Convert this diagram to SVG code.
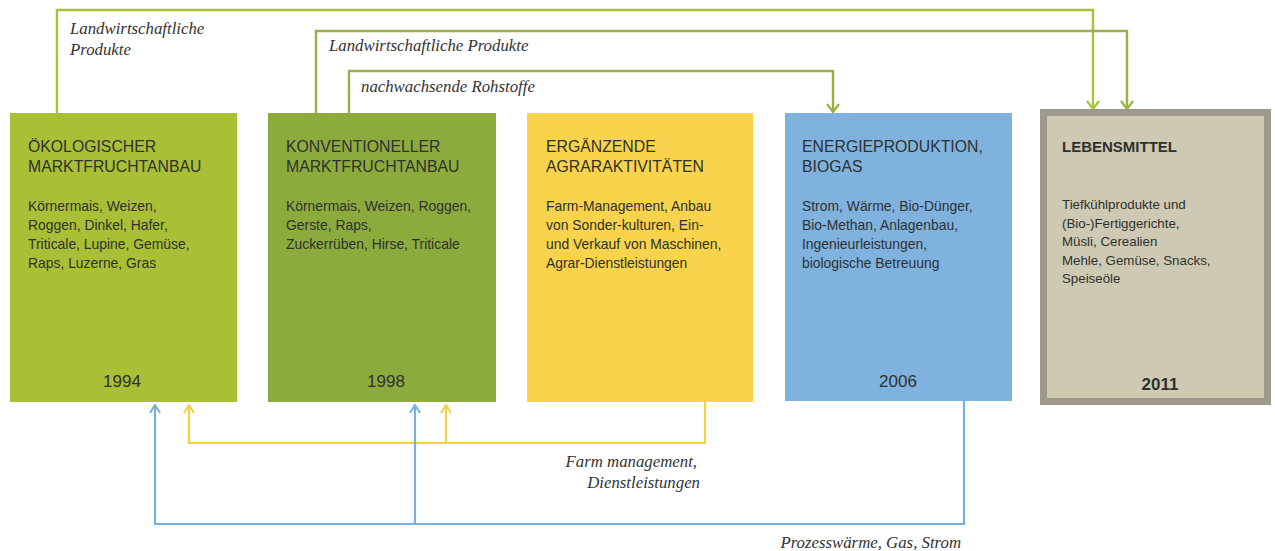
<svg xmlns="http://www.w3.org/2000/svg" width="1275" height="551" viewBox="0 0 1275 551">
<style>
.title{font-family:"Liberation Sans",Arial,sans-serif;font-size:15.8px;fill:#2f3130}
.body{font-family:"Liberation Sans",Arial,sans-serif;font-size:13.9px;fill:#2f3130}
.t5{font-family:"Liberation Sans",Arial,sans-serif;font-size:15px;font-weight:bold;fill:#2f3130}
.b5{font-family:"Liberation Sans",Arial,sans-serif;font-size:13.3px;fill:#2f3130}
.year{font-family:"Liberation Sans",Arial,sans-serif;font-size:17px;fill:#2f3130;text-anchor:middle}
.lbl{font-family:"Liberation Serif","Times New Roman",serif;font-style:italic;font-size:16.8px;fill:#333}
.g1{fill:none;stroke:#a9c13b;stroke-width:2.4}
.g2{fill:none;stroke:#98b044;stroke-width:2.4}
.y{fill:none;stroke:#f3d04c;stroke-width:2.2}
.b{fill:none;stroke:#7aaedb;stroke-width:2.2}
</style>
<defs>
<marker id="ag1" markerUnits="userSpaceOnUse" viewBox="0 0 10 14" markerWidth="10" markerHeight="14" refX="9" refY="7" orient="auto"><path d="M1,1 L9,7 L1,13" fill="none" stroke="#a9c13b" stroke-width="2.2"/></marker>
<marker id="ag2" markerUnits="userSpaceOnUse" viewBox="0 0 10 14" markerWidth="10" markerHeight="14" refX="9" refY="7" orient="auto"><path d="M1,1 L9,7 L1,13" fill="none" stroke="#98b044" stroke-width="2.2"/></marker>
<marker id="ay" markerUnits="userSpaceOnUse" viewBox="0 0 10 12" markerWidth="10" markerHeight="12" refX="9" refY="6" orient="auto"><path d="M1,1 L9,6 L1,11" fill="none" stroke="#f3d04c" stroke-width="2"/></marker>
<marker id="ab" markerUnits="userSpaceOnUse" viewBox="0 0 10 12" markerWidth="10" markerHeight="12" refX="9" refY="6" orient="auto"><path d="M1,1 L9,6 L1,11" fill="none" stroke="#7aaedb" stroke-width="2"/></marker>
</defs>
<rect width="1275" height="551" fill="#ffffff"/>

<g id="connectors">
<path class="g1" d="M57,113 V10 H1093 V109" marker-end="url(#ag1)"/>
<path class="g2" d="M316,113 V31 H1127 V109" marker-end="url(#ag2)"/>
<path class="g2" d="M349,113 V71 H833 V112" marker-end="url(#ag2)"/>
<path class="y" d="M705,402 V443 H189 V405" marker-end="url(#ay)"/>
<path class="y" d="M446,443 V405" marker-end="url(#ay)"/>
<path class="b" d="M964,401 V524 H155 V405" marker-end="url(#ab)"/>
<path class="b" d="M415,524 V405" marker-end="url(#ab)"/>
<text class="lbl" x="70" y="34">Landwirtschaftliche</text>
<text class="lbl" x="70" y="55">Produkte</text>
<text class="lbl" x="329" y="51">Landwirtschaftliche Produkte</text>
<text class="lbl" x="361" y="92">nachwachsende Rohstoffe</text>
<text class="lbl" x="697" y="467" text-anchor="end">Farm management,</text>
<text class="lbl" x="700" y="488" text-anchor="end">Dienstleistungen</text>
<text class="lbl" x="961" y="548" text-anchor="end">Prozesswärme, Gas, Strom</text>
</g>

<g id="oeko">
<rect x="10" y="113" width="227" height="289" fill="#a9bf35"/>
<text class="title" x="28" y="152">ÖKOLOGISCHER</text>
<text class="title" x="28" y="172">MARKTFRUCHTANBAU</text>
<text class="body" x="28" y="211">Körnermais, Weizen,</text>
<text class="body" x="28" y="230">Roggen, Dinkel, Hafer,</text>
<text class="body" x="28" y="249">Triticale, Lupine, Gemüse,</text>
<text class="body" x="28" y="268">Raps, Luzerne, Gras</text>
<text class="year" x="122" y="387">1994</text>
</g>

<g id="konv">
<rect x="268" y="113" width="228" height="289" fill="#8cab3d"/>
<text class="title" x="286" y="152">KONVENTIONELLER</text>
<text class="title" x="286" y="172">MARKTFRUCHTANBAU</text>
<text class="body" x="286" y="211">Körnermais, Weizen, Roggen,</text>
<text class="body" x="286" y="230">Gerste, Raps,</text>
<text class="body" x="286" y="249">Zuckerrüben, Hirse, Triticale</text>
<text class="year" x="386" y="387">1998</text>
</g>

<g id="agrar">
<rect x="527" y="113" width="226" height="289" fill="#f8d34b"/>
<text class="title" x="546" y="152">ERGÄNZENDE</text>
<text class="title" x="546" y="172">AGRARAKTIVITÄTEN</text>
<text class="body" x="546" y="211">Farm-Management, Anbau</text>
<text class="body" x="546" y="230">von Sonder-kulturen, Ein-</text>
<text class="body" x="546" y="249">und Verkauf von Maschinen,</text>
<text class="body" x="546" y="268">Agrar-Dienstleistungen</text>
</g>

<g id="energie">
<rect x="785" y="113" width="227" height="288" fill="#7fb2de"/>
<text class="title" x="802" y="152">ENERGIEPRODUKTION,</text>
<text class="title" x="802" y="172">BIOGAS</text>
<text class="body" x="802" y="211">Strom, Wärme, Bio-Dünger,</text>
<text class="body" x="802" y="230">Bio-Methan, Anlagenbau,</text>
<text class="body" x="802" y="249">Ingenieurleistungen,</text>
<text class="body" x="802" y="268">biologische Betreuung</text>
<text class="year" x="898" y="387">2006</text>
</g>

<g id="lebensmittel">
<rect x="1043.5" y="112.5" width="224" height="289" fill="#cdc9b2" stroke="#9e9a8b" stroke-width="7"/>
<text class="t5" x="1062" y="152">LEBENSMITTEL</text>
<text class="b5" x="1062" y="209">Tiefkühlprodukte und</text>
<text class="b5" x="1062" y="228">(Bio-)Fertiggerichte,</text>
<text class="b5" x="1062" y="246">Müsli, Cerealien</text>
<text class="b5" x="1062" y="265">Mehle, Gemüse, Snacks,</text>
<text class="b5" x="1062" y="283">Speiseöle</text>
<text class="year" x="1160" y="390" font-weight="bold">2011</text>
</g>
</svg>
